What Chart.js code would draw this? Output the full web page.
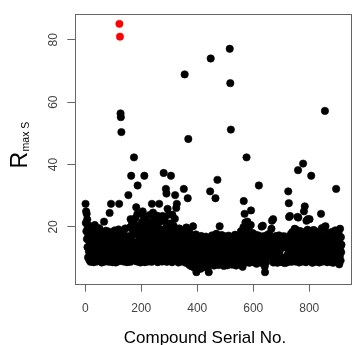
<!DOCTYPE html>
<html>
<head>
<meta charset="utf-8">
<script src="https://cdn.jsdelivr.net/npm/chart.js@4.4.1/dist/chart.umd.min.js"></script>
<style>
  html, body { margin: 0; padding: 0; background: #fff; overflow: hidden; }
  #wrap { position: relative; width: 356px; height: 345px; }
</style>
</head>
<body>
<div id="wrap"><canvas id="chart"></canvas></div>
<script>
// R max S of each compound, in serial order (compound 1, 2, 3 ...)
const rmaxS = [
  27.4, 21.3, 25.0, 18.6, 24.2, 16.1, 22.4, 13.5, 19.8, 10.2, 17.3, 20.5, 12.1, 15.4, 9.3, 18.2, 11.6, 14.2, 8.8, 16.7, 13.0, 10.9, 15.8, 12.6, 17.9,
  14.6, 10.3, 19.1, 12.8, 8.7, 16.2, 11.4, 13.9, 20.6, 9.6, 15.1, 12.2, 17.4, 10.8, 14.0, 8.9, 18.3, 11.9, 13.3, 16.6, 9.9, 12.5, 15.7, 10.4, 19.6,
  13.2, 9.2, 16.9, 11.1, 14.7, 18.1, 10.6, 12.7, 8.6, 15.5, 13.8, 17.6, 11.3, 9.7, 14.3, 12.0, 21.7, 10.1, 16.3, 13.6, 8.9, 15.0, 11.8, 18.8, 12.9,
  10.5, 14.4, 17.1, 12.3, 9.4, 16.0, 13.1, 11.0, 18.5, 8.8, 13.7, 24.5, 10.7, 16.8, 12.4, 9.1, 27.4, 14.9, 11.6, 17.8, 10.0, 13.4, 8.7, 12.0, 16.5,
  11.7, 15.2, 9.5, 13.0, 18.9, 10.9, 14.5, 12.6, 8.6, 16.6, 11.2, 13.9, 9.9, 17.5, 12.1, 10.3, 15.6, 13.3, 19.2, 9.0, 27.4, 85.1, 14.1, 81.0, 11.5,
  56.4, 55.2, 12.8, 50.4, 16.2, 10.4, 13.6, 9.3, 18.0, 12.2, 15.3, 8.9, 11.9, 14.8, 17.2, 10.1, 13.0, 19.5, 9.6, 12.5, 16.1, 11.0, 14.2, 8.7, 15.9,
  12.7, 10.2, 17.0, 30.2, 13.5, 9.4, 15.7, 11.6, 19.8, 14.3, 8.8, 22.5, 12.9, 36.4, 16.8, 10.6, 20.9, 13.1, 9.7, 18.4, 11.8, 14.6, 21.2, 42.3, 12.3,
  9.2, 19.5, 13.7, 22.8, 10.8, 15.1, 26.3, 12.0, 18.6, 8.9, 24.1, 33.3, 14.4, 11.3, 17.3, 9.8, 20.4, 12.6, 15.8, 10.5, 13.9, 8.6, 16.7, 11.7, 19.0,
  14.1, 10.0, 21.6, 12.4, 25.0, 9.1, 17.9, 13.2, 23.3, 11.1, 36.4, 15.5, 8.7, 19.7, 12.8, 10.4, 22.0, 14.7, 9.6, 16.4, 11.9, 13.6, 20.2, 8.9, 15.2,
  12.2, 18.3, 10.7, 23.8, 14.0, 9.3, 16.9, 12.9, 21.4, 11.2, 15.6, 8.8, 27.4, 13.4, 19.4, 10.1, 24.6, 12.5, 16.2, 9.7, 14.5, 22.3, 11.4, 17.7, 13.0,
  9.4, 15.0, 21.0, 13.3, 18.7, 10.3, 23.6, 14.2, 8.7, 19.9, 12.7, 16.0, 10.8, 27.4, 13.8, 23.0, 9.2, 17.6, 12.1, 21.8, 14.9, 10.5, 18.1, 13.1, 8.9,
  23.5, 12.3, 16.6, 10.0, 37.3, 14.4, 19.3, 9.5, 22.7, 13.5, 17.2, 11.0, 32.2, 15.1, 30.7, 8.8, 20.6, 12.8, 25.8, 10.6, 14.0, 18.5, 11.7, 24.0, 13.3,
  9.9, 16.3, 21.1, 12.0, 14.6, 36.4, 10.9, 19.6, 13.1, 8.7, 23.9, 15.4, 11.5, 17.8, 9.3, 20.3, 12.6, 14.8, 10.2, 22.6, 30.2, 13.7, 16.5, 11.1, 26.1,
  12.4, 27.4, 9.6, 15.7, 18.9, 11.3, 13.9, 8.6, 16.8, 10.7, 19.5, 12.9, 14.3, 9.1, 17.4, 11.8, 15.0, 13.2, 10.4, 18.2, 8.9, 14.7, 12.0, 16.1, 10.9,
  13.6, 32.2, 9.8, 15.9, 68.9, 11.6, 17.7, 12.7, 8.5, 14.5, 19.8, 10.6, 13.0, 16.4, 9.2, 29.2, 12.2, 48.2, 15.3, 10.1, 18.6, 7.8, 13.4, 11.0, 16.9,
  9.4, 12.9, 15.8, 7.4, 11.3, 17.2, 10.0, 13.5, 8.3, 20.2, 12.1, 16.3, 9.7, 11.8, 6.9, 15.1, 10.6, 13.0, 8.1, 17.6, 12.4, 5.5, 10.9, 14.6, 7.7,
  11.5, 9.0, 16.7, 12.6, 7.2, 14.0, 10.3, 8.6, 15.6, 11.9, 13.3, 6.6, 10.7, 17.1, 9.3, 12.3, 14.8, 8.0, 11.1, 16.0, 9.9, 7.5, 13.7, 10.5, 12.8,
  8.4, 15.4, 11.2, 13.9, 7.1, 16.9, 10.1, 12.5, 9.2, 14.4, 6.8, 11.7, 15.9, 8.8, 13.1, 5.5, 10.4, 16.5, 12.0, 9.5, 31.4, 14.2, 74.0, 7.9, 11.4,
  13.6, 9.8, 17.3, 11.0, 8.3, 14.9, 12.2, 16.1, 10.0, 7.6, 13.3, 15.7, 9.1, 11.9, 29.2, 12.7, 8.6, 17.8, 10.8, 14.1, 9.4, 35.1, 12.9, 16.4, 11.3,
  7.8, 13.8, 9.6, 15.2, 20.2, 12.4, 8.7, 16.8, 13.0, 9.9, 14.6, 17.4, 12.1, 8.2, 15.5, 13.5, 9.3, 16.2, 12.8, 7.5, 14.3, 10.0, 17.0, 13.2, 9.0,
  12.6, 15.8, 8.9, 11.5, 14.0, 10.2, 16.6, 7.7, 12.9, 13.9, 9.4, 17.2, 11.1, 15.1, 8.4, 77.1, 13.6, 66.1, 10.6, 51.2, 14.7, 9.2, 16.3, 12.0, 7.9,
  11.8, 14.4, 9.7, 16.9, 12.3, 8.5, 15.3, 10.8, 13.4, 17.5, 9.0, 12.1, 14.9, 7.6, 11.0, 16.0, 10.3, 13.7, 8.8, 15.6, 12.5, 9.6, 17.1, 11.4, 14.2,
  10.1, 13.1, 16.4, 8.3, 12.7, 18.6, 9.9, 14.6, 11.2, 17.7, 13.3, 7.2, 15.2, 10.5, 19.9, 28.3, 12.4, 9.3, 24.2, 16.1, 11.6, 21.4, 14.0, 8.7, 18.3,
  42.3, 13.8, 10.6, 21.7, 15.9, 9.0, 12.9, 19.3, 11.3, 16.8, 8.5, 14.5, 17.9, 10.9, 13.5, 20.6, 25.3, 12.2, 9.4, 15.4, 11.7, 18.1, 8.9, 14.1, 16.5,
  10.3, 13.0, 16.2, 8.6, 12.5, 17.6, 9.8, 14.8, 11.1, 15.7, 13.4, 8.2, 16.9, 10.7, 12.8, 14.2, 9.3, 17.3, 11.9, 33.3, 13.9, 8.8, 15.0, 10.0, 12.3,
  16.1, 9.5, 13.6, 11.5, 20.1, 14.9, 8.4, 12.0, 20.4, 17.0, 10.2, 15.3, 12.7, 9.0, 14.0, 7.3, 5.5, 11.8, 16.6, 13.2, 8.7, 15.5, 10.8, 12.6, 17.4,
  11.3, 14.7, 12.4, 16.4, 10.9, 13.8, 17.8, 12.1, 15.0, 11.6, 14.3, 13.1, 16.8, 10.4, 19.4, 12.9, 22.0, 15.6, 11.0, 13.9, 22.5, 8.6, 16.2, 9.8, 14.5,
  12.2, 8.9, 15.1, 10.6, 13.7, 17.1, 9.4, 11.9, 14.4, 16.5, 8.5, 12.8, 10.1, 15.8, 13.3, 9.7, 17.3, 11.4, 14.0, 8.8, 12.6, 16.0, 10.3, 13.5, 9.1,
  14.8, 9.6, 16.7, 8.7, 15.5, 10.0, 13.9, 17.0, 9.2, 14.9, 16.1, 8.4, 15.2, 13.6, 10.2, 16.9, 9.0, 14.1, 15.8, 8.6, 13.2, 11.0, 16.4, 9.8, 31.4,
  13.0, 27.6, 23.2, 10.5, 16.2, 23.5, 9.3, 14.6, 12.1, 17.8, 8.8, 15.4, 11.7, 13.8, 18.4, 10.1, 16.0, 12.5, 9.6, 14.9, 17.2, 11.2, 19.4, 13.3, 8.9,
  15.7, 19.2, 10.7, 13.5, 16.6, 9.1, 12.3, 23.2, 14.2, 38.2, 23.0, 11.0, 17.5, 8.6, 15.1, 12.8, 18.7, 10.4, 14.0, 16.9, 9.5, 13.1, 11.8, 17.7, 8.9,
  12.6, 15.9, 40.3, 10.2, 18.3, 25.0, 13.9, 9.4, 26.6, 16.3, 11.5, 14.7, 8.7, 17.6, 22.0, 12.4, 10.0, 15.2, 19.1, 22.5, 9.2, 13.6, 16.8, 11.1, 14.4,
  22.5, 10.8, 15.6, 12.9, 17.4, 9.0, 36.4, 14.1, 11.6, 18.8, 8.5, 13.4, 16.1, 10.5, 12.2, 19.0, 9.7, 15.0, 13.7, 17.2, 11.3, 8.8, 14.8, 16.4, 10.1,
  13.2, 17.9, 9.3, 15.3, 11.9, 14.2, 18.5, 10.6, 12.7, 16.7, 8.6, 13.8, 15.5, 11.0, 17.0, 9.8, 24.2, 12.3, 14.6, 19.6, 10.3, 16.2, 8.9, 13.1, 15.8,
  11.4, 14.9, 17.3, 19.9, 10.0, 57.2, 12.8, 20.2, 9.1, 15.4, 13.5, 16.9, 11.7, 8.7, 18.1, 14.3, 10.4, 12.0, 15.9, 9.5, 17.5, 13.0, 11.2, 16.3, 8.8,
  14.5, 10.9, 16.6, 12.5, 9.3, 18.4, 13.6, 11.1, 15.2, 8.5, 17.1, 12.2, 14.0, 10.2, 16.0, 9.6, 13.3, 18.9, 11.8, 15.6, 32.2, 10.7, 14.8, 12.9, 8.9,
  16.4, 11.5, 13.9, 9.8, 17.8, 12.6, 8.0, 15.1, 10.6, 19.4, 13.4, 9.2, 16.7, 11.9, 14.3
];
const serialNo = rmaxS.map((v, i) => i + 1);
const redCompounds = [122, 124];   // the two highest, plotted in red

const xTicks = [0, 200, 400, 600, 800];
const yTicks = [20, 40, 60, 80];
const xTitle = "Compound Serial No.";
const yTitle = "R";
const yTitleSub = "max S";

const FONT = "'Liberation Sans', Arial, sans-serif";

const points = serialNo.map((n, i) => ({ x: n, y: rmaxS[i] }));
const colors = serialNo.map(n => redCompounds.includes(n) ? "#ff0000" : "#000000");

// R style box round the plot + the two axis titles
const rFrame = {
  id: "rFrame",
  afterDraw(chart) {
    const ctx = chart.ctx;
    const a = chart.chartArea;
    ctx.save();
    ctx.strokeStyle = "#666";
    ctx.lineWidth = 1;
    ctx.strokeRect(Math.round(a.left) + 0.5, Math.round(a.top) + 0.5,
      Math.round(a.right - a.left), Math.round(a.bottom - a.top));

    ctx.fillStyle = "#000";
    ctx.font = "17px " + FONT;
    ctx.textAlign = "center";
    ctx.textBaseline = "alphabetic";
    ctx.fillText(xTitle, 205, 342.5);

    ctx.translate(26.5, 168.5);
    ctx.rotate(-Math.PI / 2);
    ctx.textAlign = "left";
    ctx.font = "23px " + FONT;
    ctx.fillText(yTitle, 0, 0);
    const w = ctx.measureText(yTitle).width;
    ctx.font = "10.5px " + FONT;
    ctx.fillText(yTitleSub, w + 0.5, 2.5);
    ctx.restore();
  }
};

new Chart(document.getElementById("chart"), {
  type: "scatter",
  data: {
    datasets: [{
      data: points,
      backgroundColor: colors,
      borderColor: colors,
      borderWidth: 0.6,
      pointRadius: 3.7,
      pointHoverRadius: 3.7
    }]
  },
  options: {
    responsive: true,
    maintainAspectRatio: false,
    animation: false,
    layout: { padding: { top: 5.7, right: 3, bottom: 0, left: 0 } },
    plugins: { legend: { display: false }, tooltip: { enabled: false } },
    scales: {
      x: {
        type: "linear",
        min: -35.6,
        max: 951.6,
        afterBuildTicks: s => { s.ticks = xTicks.map(v => ({ value: v })); },
        afterFit: s => { s.height = 61.3; },
        grid: { drawOnChartArea: false, drawTicks: true, tickLength: 8, color: "#666" },
        border: { display: false },
        ticks: { color: "#444", font: { family: FONT, size: 12 }, padding: 10, maxRotation: 0, autoSkip: false }
      },
      y: {
        min: 1.8,
        max: 88.2,
        afterBuildTicks: s => { s.ticks = yTicks.map(v => ({ value: v })); },
        afterFit: s => { s.width = 75.3; },
        grid: { drawOnChartArea: false, drawTicks: true, tickLength: 8, color: "#666" },
        border: { display: false },
        ticks: { color: "#444", font: { family: FONT, size: 12 }, padding: 7, minRotation: 90, maxRotation: 90, crossAlign: "center", autoSkip: false }
      }
    }
  },
  plugins: [rFrame]
});
</script>
</body>
</html>
